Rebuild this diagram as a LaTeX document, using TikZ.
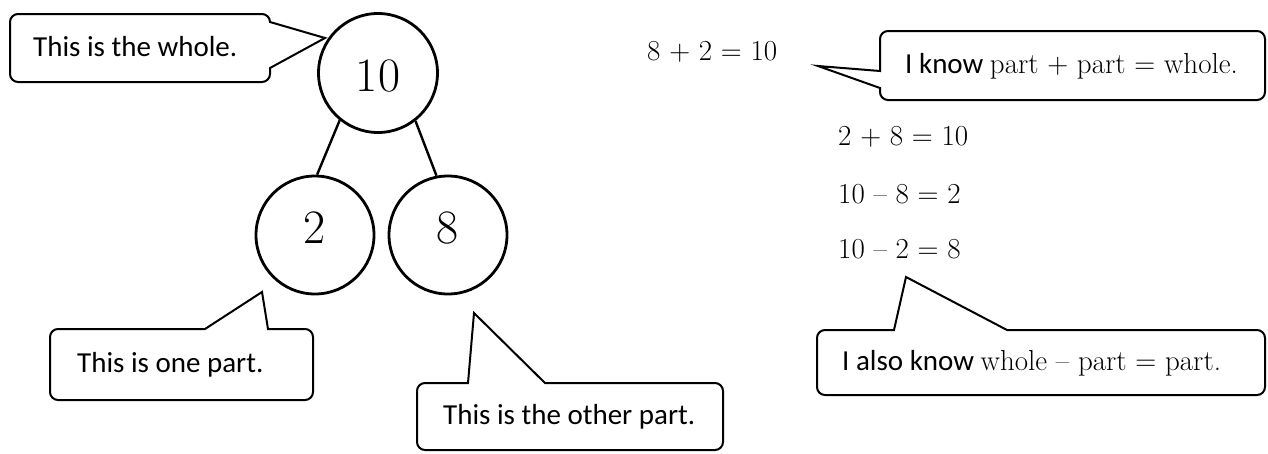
\documentclass[tikz,border=0pt]{standalone}
\usepackage{fontspec}
\newfontfamily\calibri{Carlito}
\newcommand\heavyserif{\rmfamily\addfontfeature{FakeBold=1.2}}

\begin{document}
\begin{tikzpicture}[x=1pt,y=1pt,
		bubble/.style={line width=2pt},
		bondnum/.style={draw,circle,line width=2.8pt,minimum size=118pt,text depth=14pt,font=\fontsize{48}{52}\selectfont\heavyserif},
		bondline/.style={line width=2.4pt},
		saying/.style={anchor=base west,font=\calibri\fontsize{29}{34}\selectfont},
		sum/.style={anchor=base west,font=\fontsize{29}{34}\selectfont\heavyserif}]
					\tikzstyle{every node}+=[inner sep=0pt]
					\useasboundingbox (0,0) rectangle (1268,-453);
					\node [bondnum,minimum size=119pt,text height=37pt,text depth=0pt] (whole) at (378,-73) {10};
					\node [bondnum] (parta) at (315,-235) {2};
					\node [bondnum] (partb) at (448,-235) {8};
					\draw [bondline] (whole.231) -- (parta.88);
					\draw [bondline] (whole.308) -- (partb.101);
					\draw [bubble] (270,-22) -- (325,-38) -- (270,-68) -- (270,-74) arc (0:-90:8) -- (18,-82) arc (270:180:8) -- (10,-22) arc (180:90:8) -- (262,-14) arc (90:0:8) -- cycle;
					\node [saying] (wholetext) at (33,-56) {This is the whole.};
					\draw [bubble] (205,-329) -- (262,-292) -- (268,-329) -- (305,-329) arc (90:0:8) -- (313,-392) arc (0:-90:8) -- (58,-400) arc (270:180:8) -- (50,-337) arc (180:90:8) -- cycle;
					\node [saying] (onetext) at (77,-372) {This is one part.};
					\draw [bubble] (468,-383) -- (474,-313) -- (545,-383) -- (715,-383) arc (90:0:8) -- (723,-442) arc (0:-90:8) -- (425,-450) arc (270:180:8) -- (417,-391) arc (180:90:8) -- cycle;
					\node [saying] (othertext) at (443,-424) {This is the other part.};
					\node [sum] (sumone) at (647,-60) {8 + 2 = 10};
					\draw [bubble] (880,-71) -- (818,-66) -- (880,-88) -- (880,-92) arc (180:270:8) -- (1257,-100) arc (270:360:8) -- (1265,-39) arc (0:90:8) -- (888,-31) arc (90:180:8) -- cycle;
					\node [saying] (addtext) at (905,-73) {I know {\heavyserif part + part = whole.}};
					\node [sum] (sumtwo) at (838,-145) {2 + 8 = 10};
					\node [sum] (difone) at (838,-203) {10 -- 8 = 2};
					\node [sum] (diftwo) at (838,-258) {10 -- 2 = 8};
					\draw [bubble] (894,-330) -- (906,-277) -- (1007,-330) -- (1257,-330) arc (90:0:8) -- (1265,-387) arc (0:-90:8) -- (825,-395) arc (270:180:8) -- (817,-338) arc (180:90:8) -- cycle;
					\node [saying] (subtext) at (842,-370) {I also know {\heavyserif whole -- part = part.}};
				\end{tikzpicture}
\end{document}
